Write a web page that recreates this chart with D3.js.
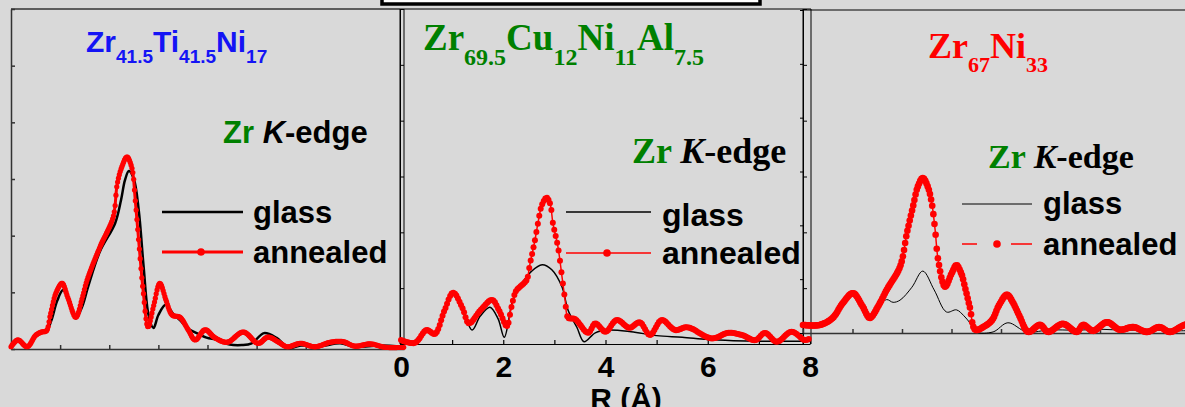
<!DOCTYPE html>
<html lang="en">
<head>
<meta charset="UTF-8">
<title>Zr K-edge EXAFS</title>
<style>
  html, body { margin: 0; padding: 0; background: #d9d9d9; overflow: hidden; }
  svg { display: block; }
  .sans { font-family: "Liberation Sans", Arial, sans-serif; font-weight: bold; }
  .serif { font-family: "Liberation Serif", "Times New Roman", serif; font-weight: bold; }
</style>
</head>
<body>
<script src="https://cdn.jsdelivr.net/npm/d3@7/dist/d3.min.js"></script>
<script>
// ticks
var xLabels = [0, 2, 4, 6, 8]
var xMinor = [0, 1, 2, 3, 4, 5, 6, 7, 8]
var yTicks = [0, 1, 2, 3, 4, 5, 6]

// Zr41.5Ti41.5Ni17
var r1g = [0, 0.14, 0.33, 0.5, 0.62, 0.72, 0.82, 0.94, 1.06, 1.18, 1.32, 1.45, 1.57, 1.81, 2.12, 2.24, 2.32, 2.4, 2.5, 2.6, 2.7, 2.8, 2.9, 3.0, 3.15, 3.3, 3.45, 3.6, 3.78, 3.98, 4.2, 4.45, 4.7, 4.9, 5.15, 5.4, 5.65, 5.9, 6.3, 6.7, 7.0, 7.5, 8.0]
var glass1 = [0.04, 0.15, 0.05, 0.22, 0.29, 0.32, 0.5, 0.85, 1.04, 0.85, 0.54, 0.75, 1.1, 1.72, 2.22, 2.63, 2.98, 3.14, 3.0, 2.45, 1.45, 0.6, 0.37, 0.6, 0.78, 0.62, 0.5, 0.36, 0.28, 0.2, 0.16, 0.08, 0.07, 0.1, 0.28, 0.2, 0.02, 0.06, 0.05, 0.1, 0.04, 0.06, 0.04]
var r1a = [0, 0.14, 0.33, 0.5, 0.62, 0.72, 0.8, 0.92, 1.04, 1.16, 1.32, 1.45, 1.55, 1.81, 2.08, 2.16, 2.25, 2.36, 2.46, 2.53, 2.61, 2.69, 2.79, 2.9, 3.03, 3.16, 3.28, 3.44, 3.6, 3.75, 3.95, 4.15, 4.4, 4.73, 5.03, 5.23, 5.45, 5.62, 5.89, 6.19, 6.5, 6.76, 7.0, 7.31, 7.62, 8.0]
var annealed1 = [0.04, 0.16, 0.04, 0.24, 0.3, 0.32, 0.6, 1.0, 1.16, 0.9, 0.56, 0.9, 1.22, 1.8, 2.33, 2.9, 3.2, 3.39, 3.2, 2.62, 1.8, 1.03, 0.39, 0.75, 1.16, 0.85, 0.6, 0.56, 0.35, 0.16, 0.34, 0.2, 0.12, 0.3, 0.1, 0.21, 0.12, 0.04, 0.1, 0.04, 0.12, 0.13, 0.05, 0.09, 0.03, 0.03]

// Zr69.5Cu12Ni11Al7.5
var r2g = [0, 0.27, 0.5, 0.66, 0.85, 1.02, 1.2, 1.39, 1.55, 1.74, 1.9, 2.02, 2.19, 2.37, 2.55, 2.76, 2.95, 3.15, 3.27, 3.44, 3.58, 3.8, 4.05, 4.5, 5.0, 5.5, 6.0, 6.5, 7.0, 7.5, 8.0]
var glass2 = [0.07, 0.02, 0.25, 0.16, 0.6, 0.9, 0.65, 0.25, 0.5, 0.66, 0.45, 0.12, 0.79, 1.09, 1.3, 1.42, 1.33, 1.02, 0.6, 0.3, 0.04, 0.2, 0.25, 0.22, 0.15, 0.12, 0.08, 0.06, 0.05, 0.05, 0.05]
var r2a = [0, 0.27, 0.5, 0.66, 0.85, 1.02, 1.2, 1.33, 1.55, 1.78, 1.92, 2.07, 2.16, 2.25, 2.37, 2.46, 2.52, 2.62, 2.68, 2.76, 2.85, 2.92, 2.97, 3.07, 3.15, 3.21, 3.27, 3.4, 3.66, 3.8, 4.0, 4.22, 4.47, 4.67, 4.87, 5.1, 5.36, 5.6, 6.08, 6.4, 6.67, 6.93, 7.12, 7.35, 7.64, 7.9, 8.0]
var annealed2 = [0.07, 0.02, 0.25, 0.18, 0.6, 0.92, 0.65, 0.37, 0.6, 0.79, 0.6, 0.32, 0.66, 0.95, 1.06, 1.15, 1.42, 1.86, 2.17, 2.5, 2.62, 2.5, 2.17, 1.74, 1.2, 0.79, 0.47, 0.45, 0.2, 0.37, 0.22, 0.43, 0.29, 0.39, 0.16, 0.43, 0.25, 0.3, 0.1, 0.2, 0.16, 0.07, 0.2, 0.04, 0.22, 0.07, 0.1]

// Zr67Ni33
var r3g = [0, 0.34, 0.6, 0.8, 1.01, 1.2, 1.35, 1.52, 1.69, 1.82, 1.96, 2.2, 2.42, 2.65, 2.9, 3.1, 3.25, 3.37, 3.5, 3.84, 4.14, 4.52, 5.0, 5.5, 6.0, 6.5, 7.0, 7.5, 8.0]
var glass3 = [0.15, 0.15, 0.28, 0.55, 0.74, 0.5, 0.28, 0.48, 0.62, 0.57, 0.61, 0.85, 1.15, 0.8, 0.39, 0.43, 0.32, 0.19, 0.02, 0.02, 0.19, 0.02, 0.06, 0.05, 0.07, 0.05, 0.06, 0.04, 0.05]
var r3a = [0, 0.34, 0.6, 0.8, 1.01, 1.2, 1.35, 1.52, 1.69, 1.96, 2.1, 2.22, 2.32, 2.42, 2.52, 2.6, 2.67, 2.73, 2.87, 3.0, 3.1, 3.2, 3.27, 3.37, 3.48, 3.64, 3.82, 3.95, 4.12, 4.25, 4.38, 4.55, 4.79, 4.95, 5.25, 5.53, 5.66, 5.86, 6.14, 6.4, 6.67, 6.95, 7.2, 7.41, 7.71, 8.0]
var annealed3 = [0.15, 0.15, 0.28, 0.55, 0.74, 0.5, 0.28, 0.5, 0.8, 1.23, 1.86, 2.34, 2.72, 2.88, 2.72, 2.42, 1.91, 1.36, 0.86, 1.1, 1.26, 1.1, 0.86, 0.48, 0.06, 0.11, 0.24, 0.5, 0.71, 0.55, 0.3, 0.02, 0.15, 0.02, 0.17, 0.02, 0.15, 0.04, 0.2, 0.06, 0.11, 0.02, 0.11, 0.02, 0.15, 0.2]

var width = 1185, height = 407
var red = '#ff0000', green = '#008000', blue = '#1414f5'

var svg = d3.select('body').append('svg').attr('width', width).attr('height', height)
svg.append('rect').attr('width', width).attr('height', height).attr('fill', '#d9d9d9')

// cut off box at the top
svg.append('rect').attr('x', 382).attr('y', -10).attr('width', 378).attr('height', 14)
    .attr('fill', '#fff').attr('stroke', '#000').attr('stroke-width', 3.5)

function zip(xs, ys) { return xs.map(function (d, i) { return [d, ys[i]] }) }

// evenly spaced (in x) markers along a drawn path
function dotsAlong(node, step) {
    var L = node.getTotalLength(), pts = [], lastX = -1e9
    for (var s = 0; s <= L; s += 0.4) {
        var p = node.getPointAtLength(s)
        if (p.x - lastX >= step) { pts.push(p); lastX = p.x }
    }
    return pts
}

function drawCurves(g, x, y, glassData, annData, opt) {
    var line = d3.line().x(function (d) { return x(d[0]) }).y(function (d) { return y(d[1]) })
        .curve(d3.curveCatmullRom.alpha(0.5))
    g.append('path').attr('d', line(glassData)).attr('fill', 'none')
        .attr('stroke', '#000').attr('stroke-width', opt.glassW)
    var p = g.append('path').attr('d', line(annData)).attr('fill', 'none')
        .attr('stroke', red).attr('stroke-width', opt.annW)
    g.selectAll('circle.dot').data(dotsAlong(p.node(), opt.step)).enter().append('circle')
        .attr('class', 'dot').attr('cx', function (d) { return d.x }).attr('cy', function (d) { return d.y })
        .attr('r', opt.r).attr('fill', red)
}

function formula(g, px, py, parts, cls, color, big, small, shift) {
    var t = g.append('text').attr('x', px).attr('y', py).attr('class', cls).attr('fill', color)
    var down = false
    parts.forEach(function (s, i) {
        var sub = i % 2 === 1
        var ts = t.append('tspan').text(s).attr('font-size', sub ? small : big)
        if (sub && !down) { ts.attr('dy', shift); down = true }
        else if (!sub && down) { ts.attr('dy', -shift); down = false }
    })
}

function edgeLabel(g, px, py, cls, size) {
    var t = g.append('text').attr('x', px).attr('y', py).attr('class', cls).attr('font-size', size)
    t.append('tspan').text('Zr ').attr('fill', green)
    t.append('tspan').text('K').attr('font-style', 'italic').attr('fill', '#000')
    t.append('tspan').text('-edge').attr('fill', '#000')
}

function styleAxis(g, color, w) {
    g.selectAll('path,line').attr('stroke', color).attr('stroke-width', w)
}

// ---------- panel 1 ----------
var x1 = d3.scaleLinear().domain([0, 8]).range([11, 404])
var y1 = d3.scaleLinear().domain([0, 6]).range([349, 9])
var p1 = svg.append('g')
p1.append('line').attr('x1', x1(0)).attr('x2', 400).attr('y1', y1(6)).attr('y2', y1(6))
    .attr('stroke', '#333').attr('stroke-width', 1.5)
var ax1 = p1.append('g').attr('transform', 'translate(0,' + y1(0) + ')')
    .call(d3.axisBottom(x1).tickValues(xMinor).tickSizeInner(-4).tickSizeOuter(0).tickFormat(''))
styleAxis(ax1, '#333', 1.5)
var ay1 = p1.append('g').attr('transform', 'translate(' + x1(0) + ',0)')
    .call(d3.axisLeft(y1).tickValues(yTicks).tickSizeInner(-4).tickSizeOuter(0).tickFormat(''))
styleAxis(ay1, '#333', 1.5)
drawCurves(p1, x1, y1, zip(r1g, glass1), zip(r1a, annealed1), { glassW: 2.5, annW: 3, step: 0.8, r: 2.6 })
formula(p1, 86, 52, ['Zr', '41.5', 'Ti', '41.5', 'Ni', '17'], 'sans', blue, 30, 19, 11)
edgeLabel(p1, 223, 143, 'sans', 31)
p1.append('line').attr('x1', 162).attr('x2', 243).attr('y1', 212).attr('y2', 212).attr('stroke', '#000').attr('stroke-width', 2.5)
p1.append('text').attr('class', 'sans').attr('x', 253).attr('y', 223).attr('font-size', 31).text('glass')
p1.append('line').attr('x1', 162).attr('x2', 243).attr('y1', 252).attr('y2', 252).attr('stroke', red).attr('stroke-width', 3)
p1.append('circle').attr('cx', 201).attr('cy', 252).attr('r', 3.8).attr('fill', red)
p1.append('text').attr('class', 'sans').attr('x', 253).attr('y', 263).attr('font-size', 31).text('annealed')

// ---------- panel 2 ----------
var x2 = d3.scaleLinear().domain([0, 8]).range([401, 810])
var y2 = d3.scaleLinear().domain([0, 6]).range([344, 9])
var p2 = svg.append('g')
var frame2 = [[400, 400], [404, 404], [803, 803], [811, 811]]
p2.selectAll('line.frame').data(frame2).enter().append('line').attr('class', 'frame')
    .attr('x1', function (d) { return d[0] }).attr('x2', function (d) { return d[1] })
    .attr('y1', y2(6)).attr('y2', y2(0)).attr('stroke', '#000').attr('stroke-width', 1)
p2.append('line').attr('x1', 400).attr('x2', 811).attr('y1', y2(6)).attr('y2', y2(6)).attr('stroke', '#000')
var ax2 = p2.append('g').attr('class', 'sans').attr('transform', 'translate(0,' + y2(0) + ')')
    .call(d3.axisBottom(x2).tickValues(xMinor).tickSizeInner(-4).tickSizeOuter(0).tickPadding(12)
        .tickFormat(function (d) { return xLabels.indexOf(d) >= 0 ? d : '' }))
styleAxis(ax2, '#000', 1.2)
ax2.selectAll('text').attr('font-size', 30).attr('fill', '#000').attr('font-family', null)
var ay2 = p2.append('g').attr('transform', 'translate(400,0)')
    .call(d3.axisLeft(y2).tickValues(yTicks).tickSizeInner(-4).tickSizeOuter(0).tickFormat(''))
styleAxis(ay2, '#000', 1)
var ay2r = p2.append('g').attr('transform', 'translate(803,0)')
    .call(d3.axisRight(y2).tickValues(yTicks).tickSizeInner(4).tickSizeOuter(0).tickFormat(''))
styleAxis(ay2r, '#000', 1)
drawCurves(p2, x2, y2, zip(r2g, glass2), zip(r2a, annealed2), { glassW: 1.5, annW: 1.5, step: 1.4, r: 3 })
formula(p2, 423, 50, ['Zr', '69.5', 'Cu', '12', 'Ni', '11', 'Al', '7.5'], 'serif', green, 37, 24, 15)
edgeLabel(p2, 632, 163, 'serif', 36)
p2.append('line').attr('x1', 566).attr('x2', 651).attr('y1', 212).attr('y2', 212).attr('stroke', '#000').attr('stroke-width', 1.5)
p2.append('text').attr('class', 'sans').attr('x', 662).attr('y', 226).attr('font-size', 32).text('glass')
p2.append('line').attr('x1', 566).attr('x2', 651).attr('y1', 253).attr('y2', 253).attr('stroke', red).attr('stroke-width', 1.5)
p2.append('circle').attr('cx', 607).attr('cy', 253).attr('r', 3.8).attr('fill', red)
p2.append('text').attr('class', 'sans').attr('x', 662).attr('y', 264).attr('font-size', 32).text('annealed')
p2.append('text').attr('class', 'sans').attr('x', 626).attr('y', 409).attr('font-size', 30)
    .attr('text-anchor', 'middle').text('R (Å)')

// ---------- panel 3 ----------
var x3 = d3.scaleLinear().domain([0, 8]).range([803, 1199])
var y3 = d3.scaleLinear().domain([0, 6]).range([333, 10])
var p3 = svg.append('g')
p3.append('line').attr('x1', 803).attr('x2', width).attr('y1', y3(6)).attr('y2', y3(6)).attr('stroke', '#000')
var ax3 = p3.append('g').attr('transform', 'translate(0,' + y3(0) + ')')
    .call(d3.axisBottom(x3).tickValues(xMinor).tickSizeInner(-4).tickSizeOuter(0).tickFormat(''))
styleAxis(ax3, '#333', 1.5)
var ay3 = p3.append('g').attr('transform', 'translate(803,0)')
    .call(d3.axisLeft(y3).tickValues(yTicks).tickSizeInner(3).tickSizeOuter(0).tickFormat(''))
ay3.select('.domain').remove()
styleAxis(ay3, '#000', 1)
drawCurves(p3, x3, y3, zip(r3g, glass3), zip(r3a, annealed3), { glassW: 1, annW: 1.5, step: 1.1, r: 3.3 })
formula(p3, 928, 58, ['Zr', '67', 'Ni', '33'], 'serif', red, 36, 22, 14)
edgeLabel(p3, 988, 168, 'serif', 34)
p3.append('line').attr('x1', 962).attr('x2', 1032).attr('y1', 204).attr('y2', 204).attr('stroke', '#000').attr('stroke-width', 1)
p3.append('text').attr('class', 'sans').attr('x', 1043).attr('y', 214).attr('font-size', 31).text('glass')
p3.append('line').attr('x1', 962).attr('x2', 977).attr('y1', 244).attr('y2', 244).attr('stroke', red).attr('stroke-width', 1.5)
p3.append('line').attr('x1', 1011).attr('x2', 1032).attr('y1', 244).attr('y2', 244).attr('stroke', red).attr('stroke-width', 1.5)
p3.append('circle').attr('cx', 997).attr('cy', 244).attr('r', 3.8).attr('fill', red)
p3.append('text').attr('class', 'sans').attr('x', 1043).attr('y', 255).attr('font-size', 31).text('annealed')
</script>
</body>
</html>
